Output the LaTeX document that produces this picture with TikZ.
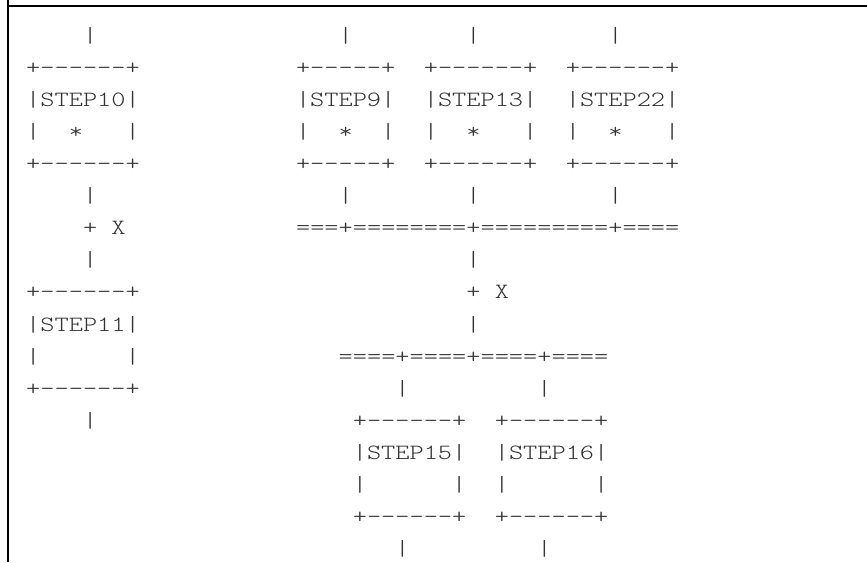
\documentclass[tikz,border=0pt]{standalone}
\usepackage{fontspec}
\usepackage{tikz}
\newfontfamily\asciifont[FakeStretch=1.24,Ligatures=TeXOff]{lmmonolt10-regular.otf}
\definecolor{ink}{HTML}{333333}
\tikzset{
	ascii/.style={font={\asciifont\fontsize{21.8pt}{26pt}\selectfont}, text=ink, inner sep=0pt, anchor=base},
	frame/.style={line width=2.4pt, black}
}

\begin{document}
\begin{tikzpicture}
	\useasboundingbox (0,0) rectangle (867pt,-562pt);
	
	% frame of the page
	\coordinate (FT) at (8pt,0pt);
	\coordinate (FB) at (8pt,-562pt);
	\coordinate (FL) at (8pt,-6pt);
	\coordinate (FR) at (867pt,-6pt);
	\draw[frame] (FT) -- (FB);
	\draw[frame] (FL) -- (FR);
	
	% one unit = one character cell, rows go down
	\begin{scope}[shift={(33.3pt,-42.5pt)}, x=14.2pt, y=-32.06pt]
	
	% row 0, incoming lines
	\node[ascii] (in10) at (4,0) {|};
	\node[ascii] (in9) at (22,0) {|};
	\node[ascii] (in13) at (31,0) {|};
	\node[ascii] (in22) at (41,0) {|};
	
	% STEP10
	\node[ascii] (s10top) at (3.5,1) {+------+};
	\node[ascii] (s10name) at (3.5,2) {|STEP10|};
	\node[ascii] (s10l) at (0,3) {|};
	\node[ascii] (s10star) at (3,3) {*};
	\node[ascii] (s10r) at (7,3) {|};
	\node[ascii] (s10bot) at (3.5,4) {+------+};
	
	% STEP9
	\node[ascii] (s9top) at (22,1) {+-----+};
	\node[ascii] (s9name) at (22,2) {|STEP9|};
	\node[ascii] (s9l) at (19,3) {|};
	\node[ascii] (s9star) at (22,3) {*};
	\node[ascii] (s9r) at (25,3) {|};
	\node[ascii] (s9bot) at (22,4) {+-----+};
	
	% STEP13
	\node[ascii] (s13top) at (31.5,1) {+------+};
	\node[ascii] (s13name) at (31.5,2) {|STEP13|};
	\node[ascii] (s13l) at (28,3) {|};
	\node[ascii] (s13star) at (31,3) {*};
	\node[ascii] (s13r) at (35,3) {|};
	\node[ascii] (s13bot) at (31.5,4) {+------+};
	
	% STEP22
	\node[ascii] (s22top) at (41.5,1) {+------+};
	\node[ascii] (s22name) at (41.5,2) {|STEP22|};
	\node[ascii] (s22l) at (38,3) {|};
	\node[ascii] (s22star) at (41,3) {*};
	\node[ascii] (s22r) at (45,3) {|};
	\node[ascii] (s22bot) at (41.5,4) {+------+};
	
	% row 5, outgoing lines
	\node[ascii] (out10) at (4,5) {|};
	\node[ascii] (out9) at (22,5) {|};
	\node[ascii] (out13) at (31,5) {|};
	\node[ascii] (out22) at (41,5) {|};
	
	% left X join
	\node[ascii] (xl) at (5,6) {+ X};
	\node[ascii] (xlout) at (4,7) {|};
	
	% upper bar
	\node[ascii] (barup) at (32,6) {===+========+=========+====};
	\node[ascii] (barupout) at (31,7) {|};
	
	% right X join
	\node[ascii] (xr) at (32,8) {+ X};
	\node[ascii] (xrout) at (31,9) {|};
	
	% STEP11
	\node[ascii] (s11top) at (3.5,8) {+------+};
	\node[ascii] (s11name) at (3.5,9) {|STEP11|};
	\node[ascii] (s11l) at (0,10) {|};
	\node[ascii] (s11r) at (7,10) {|};
	\node[ascii] (s11bot) at (3.5,11) {+------+};
	\node[ascii] (out11) at (4,12) {|};
	
	% lower bar
	\node[ascii] (barlow) at (31,10) {====+====+====+====};
	\node[ascii] (in15) at (26,11) {|};
	\node[ascii] (in16) at (36,11) {|};
	
	% STEP15
	\node[ascii] (s15top) at (26.5,12) {+------+};
	\node[ascii] (s15name) at (26.5,13) {|STEP15|};
	\node[ascii] (s15l) at (23,14) {|};
	\node[ascii] (s15r) at (30,14) {|};
	\node[ascii] (s15bot) at (26.5,15) {+------+};
	\node[ascii] (out15) at (26,16) {|};
	
	% STEP16
	\node[ascii] (s16top) at (36.5,12) {+------+};
	\node[ascii] (s16name) at (36.5,13) {|STEP16|};
	\node[ascii] (s16l) at (33,14) {|};
	\node[ascii] (s16r) at (40,14) {|};
	\node[ascii] (s16bot) at (36.5,15) {+------+};
	\node[ascii] (out16) at (36,16) {|};
	
	\end{scope}
\end{tikzpicture}
\end{document}
